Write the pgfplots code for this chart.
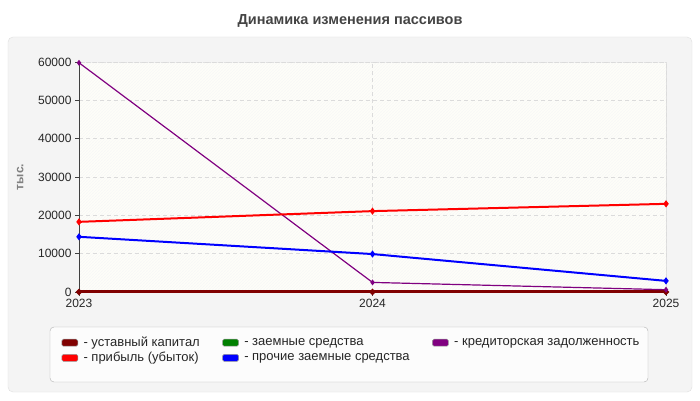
\documentclass[border=0pt]{standalone}
\usepackage{fontspec}
\setmainfont{Liberation Sans}
\usepackage{pgfplots}
\pgfplotsset{compat=1.18}
\usetikzlibrary{patterns}

\definecolor{panelbg}{HTML}{F4F4F4}
\definecolor{plotbg}{HTML}{FEFEF9}
\definecolor{titlegray}{HTML}{444444}
\definecolor{cdarkred}{HTML}{800000}
\definecolor{cred}{HTML}{FF0000}
\definecolor{cgreen}{HTML}{008000}
\definecolor{cblue}{HTML}{0000FF}
\definecolor{cpurple}{HTML}{800080}

\newcommand{\legbox}[1]{\addlegendimage{legend image code/.code={%
  \draw[fill=#1, draw=gray!80, rounded corners=1.5pt, line width=0.5pt] (0pt,-3.5pt) rectangle (16pt,3.5pt);
  \path (20pt,0pt);}}}

\begin{document}
\begin{tikzpicture}
\useasboundingbox (0pt,0pt) rectangle (700pt,400pt);
\fill[white] (0pt,0pt) rectangle (700pt,400pt);
\filldraw[fill=panelbg, draw=gray!25, rounded corners=5pt] (8pt,8pt) rectangle (692pt,363pt);
\node[font=\bfseries\fontsize{14.5}{17}\selectfont, text=titlegray] at (350pt,379pt) {Динамика изменения пассивов};
\filldraw[fill=white!98!gray, draw=gray!60, rounded corners=4pt] (50pt,18pt) rectangle (648pt,73pt);

\begin{axis}[
    at={(79pt,108pt)}, anchor=south west,
    width=587pt, height=230pt, scale only axis,
    xmin=2023, xmax=2025, ymin=0, ymax=60000,
    xtick={2023,2024,2025}, xticklabels={2023,2024,2025},
    ytick={0,10000,20000,30000,40000,50000,60000},
    scaled y ticks=false,
    /pgf/number format/assume math mode=true,
    yticklabel style={/pgf/number format/1000 sep={}},
    ticklabel style={font=\fontsize{12}{14}\selectfont, text=black!85},
    axis x line*=bottom, axis y line*=left,
    axis line style={-, draw=black!75, line width=0.8pt},
    tick align=outside, major tick length=4pt,
    tick style={black!75, line width=0.6pt},
    xmajorgrids, ymajorgrids,
    major grid style={dash pattern=on 4pt off 3pt, draw=gray!28, line width=0.6pt},
    axis background/.style={fill=plotbg, draw=gray!25,
        postaction={pattern=north east lines, pattern color=gray!6}},
    ylabel={тыс.},
    ylabel style={at={(axis description cs:-0.1,0.5)}, anchor=center,
        font=\bfseries\fontsize{12}{14}\selectfont, text=gray},
    legend columns=3,
    legend cell align=left,
    legend style={at={(axis description cs:-0.030,-0.189)}, anchor=north west,
        draw=none, fill=none, inner sep=0pt, row sep=1pt,
        font=\fontsize{13}{15}\selectfont, text=black!85,
        nodes={inner sep=1.5pt},
        /tikz/every even column/.append style={column sep=21pt}},
]
\legbox{cdarkred}\addlegendentry{- уставный капитал}
\legbox{cgreen}\addlegendentry{- заемные средства}
\legbox{cpurple}\addlegendentry{- кредиторская задолженность}
\legbox{cred}\addlegendentry{- прибыль (убыток)}
\legbox{cblue}\addlegendentry{- прочие заемные средства}

\addplot[forget plot, color=cgreen, line width=2pt, mark=*, mark size=1.2pt]
    coordinates {(2023,0)(2024,0)(2025,0)};
\addplot[forget plot, color=cdarkred, line width=3pt, mark=*, mark size=1.2pt]
    coordinates {(2023,10)(2024,10)(2025,10)};
\addplot[forget plot, color=cpurple, line width=1.2pt, mark=diamond*, mark size=2pt]
    coordinates {(2023,59800)(2024,2500)(2025,600)};
\addplot[forget plot, color=cred, line width=2pt, mark=diamond*, mark size=2pt]
    coordinates {(2023,18300)(2024,21100)(2025,23000)};
\addplot[forget plot, color=cblue, line width=2pt, mark=diamond*, mark size=2pt]
    coordinates {(2023,14400)(2024,9900)(2025,2900)};
\end{axis}
\end{tikzpicture}
\end{document}
